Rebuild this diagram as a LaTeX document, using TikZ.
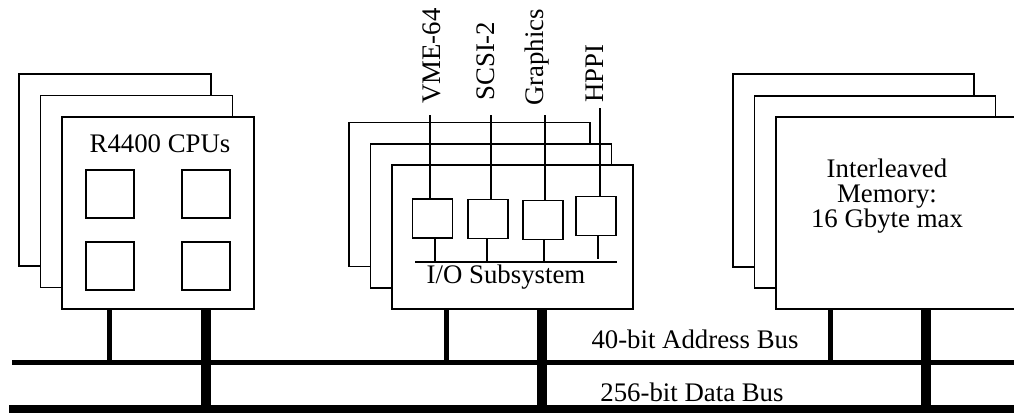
\documentclass[tikz,border=0pt]{standalone}
\usepackage{fontspec}
\setmainfont{Liberation Serif}

\begin{document}
\begin{tikzpicture}[x=0.5pt,y=-0.5pt,
  frame/.style={draw,fill=white,line width=0.6pt,inner sep=0pt},
  chip/.style={draw,fill=white,line width=0.6pt,inner sep=0pt,minimum width=24pt,minimum height=24pt},
  port/.style={draw,fill=white,line width=0.6pt,inner sep=0pt,minimum width=20pt,minimum height=19.5pt},
  label/.style={inner sep=0pt,font=\fontsize{13.4}{12.5}\selectfont},
  io line/.style={line width=1pt},
  addr line/.style={line width=2.5pt},
  data line/.style={line width=4.5pt}]
\useasboundingbox (0,0) rectangle (1014,413);

% CPU boards
\node[frame,minimum width=96pt,minimum height=96pt] (cpuA) at (115.0,170.0) {};
\node[frame,minimum width=96pt,minimum height=96pt] (cpuB) at (136.5,191.5) {};
\node[frame,minimum width=96pt,minimum height=96pt] (cpu) at (158.0,213.0) {};
\node[label,anchor=base] (cpulabel) at (160,152) {R4400 CPUs};
\node[chip] (c1) at (110,194) {};
\node[chip] (c2) at (206,194) {};
\node[chip] (c3) at (110,266) {};
\node[chip] (c4) at (206,266) {};

% I/O boards
\node[frame,minimum width=120.5pt,minimum height=72pt] (ioA) at (469.5,194.5) {};
\node[frame,minimum width=120.5pt,minimum height=72pt] (ioB) at (491.0,216.0) {};
\node[frame,minimum width=120.5pt,minimum height=72pt] (io) at (512.5,237.0) {};
\node[port] (p1) at (432.5,218.5) {};
\node[port] (p2) at (488.0,219.0) {};
\node[port] (p3) at (543.0,220.0) {};
\node[port] (p4) at (596.0,216.0) {};
\node[label,anchor=base] (iolabel) at (506,283) {I/O Subsystem};
\node[label,rotate=90,anchor=west] (vme) at (432,104) {VME-64};
\node[label,rotate=90,anchor=west] (scsi) at (485.5,101) {SCSI-2};
\node[label,rotate=90,anchor=west] (gfx) at (537,106) {Graphics};
\node[label,rotate=90,anchor=west] (hppi) at (595,103) {HPPI};

% memory boards
\node[frame,minimum width=120.5pt,minimum height=96.5pt] (memA) at (853.5,170.5) {};
\node[frame,minimum width=120.5pt,minimum height=96pt] (memB) at (875.0,192.0) {};
\node[frame,minimum width=120.5pt,minimum height=96pt] (mem) at (896.5,213.0) {};
\node[label,align=center,anchor=north] (memlabel) at (887,159) {Interleaved\\Memory:\\16 Gbyte max};

% bus labels
\node[label,anchor=base] (addrlabel) at (695,348) {40-bit Address Bus};
\node[label,anchor=base] (datalabel) at (692,401) {256-bit Data Bus};

% port lines
\coordinate (t1) at (430,115);
\coordinate (t2) at (491,115);
\coordinate (t3) at (545,115);
\coordinate (t4) at (600,108);
\coordinate (s1) at (435,262);
\coordinate (s2) at (487,262);
\coordinate (s3) at (544,262);
\coordinate (s4) at (598,259);
\coordinate (iobusL) at (415,262);
\coordinate (iobusR) at (617,262);
\draw[io line] (t1) -- (t1 |- p1.north);
\draw[io line] (t2) -- (t2 |- p2.north);
\draw[io line] (t3) -- (t3 |- p3.north);
\draw[io line] (t4) -- (t4 |- p4.north);
\draw[io line] (s1 |- p1.south) -- (s1);
\draw[io line] (s2 |- p2.south) -- (s2);
\draw[io line] (s3 |- p3.south) -- (s3);
\draw[io line] (s4 |- p4.south) -- (s4);
\draw[io line] (iobusL) -- (iobusR);

% buses
\coordinate (addrL) at (12,362.5);
\coordinate (addrR) at (1014,362.5);
\coordinate (dataL) at (9,409);
\coordinate (dataR) at (1014,409);
\coordinate (a1) at (109,362.5);
\coordinate (a2) at (446,362.5);
\coordinate (a3) at (830,362.5);
\coordinate (d1) at (206,409);
\coordinate (d2) at (542,409);
\coordinate (d3) at (926,409);
\draw[addr line] (a1 |- cpu.south) -- (a1);
\draw[addr line] (a2 |- io.south) -- (a2);
\draw[addr line] (a3 |- mem.south) -- (a3);
\draw[line width=5pt] (d1 |- cpu.south) -- (d1);
\draw[line width=5pt] (d2 |- io.south) -- (d2);
\draw[line width=5pt] (d3 |- mem.south) -- (d3);
\draw[addr line] (addrL) -- (addrR);
\draw[data line] (dataL) -- (dataR);
\end{tikzpicture}
\end{document}
